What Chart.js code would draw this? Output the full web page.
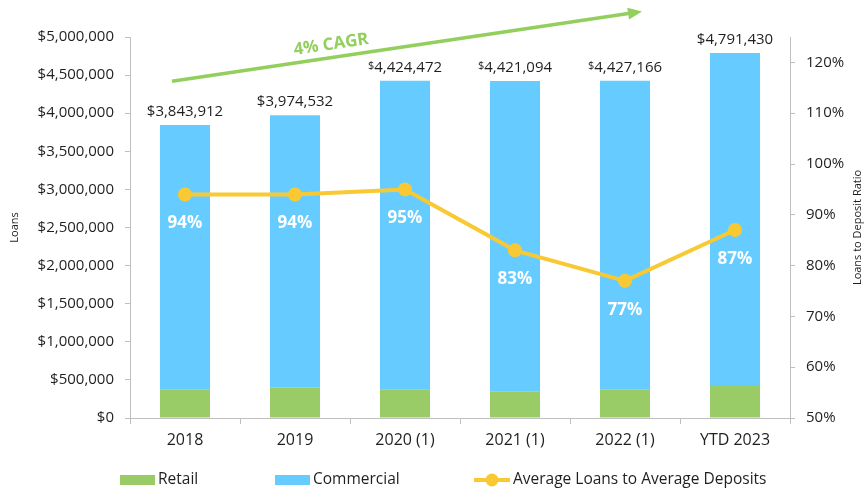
<!DOCTYPE html>
<html><head><meta charset="utf-8">
<script src="https://cdn.jsdelivr.net/npm/chart.js@4"></script>
<style>html,body{margin:0;padding:0;background:#fff}canvas{display:block}</style>
</head><body>
<canvas id="c" width="867" height="493"></canvas>
<script>
const categories = ['2018', '2019', '2020 (1)', '2021 (1)', '2022 (1)', 'YTD 2023'];
const totalLoans = [3843912, 3974532, 4424472, 4421094, 4427166, 4791430];
const retail = [376000, 398000, 376000, 350000, 376000, 433000];
const commercial = totalLoans.map((t, i) => t - retail[i]);
const ratio = [94, 94, 95, 83, 77, 87];
const smallDollar = [false, false, true, true, true, false];

const FONT = '"Open Sans", "Liberation Sans", sans-serif';
const GREEN = '#99CC66';
const BLUE = '#66CCFF';
const YELLOW = '#F9C934';
const ARROW = '#92CF5C';
const TXT = '#1F1F1F';
const AX = '#BFBFBF';

const overlay = {
  id: 'overlay',
  afterDatasetsDraw(chart) {
    const ctx = chart.ctx;
    const x = chart.scales.x, y = chart.scales.y;
    const ca = chart.chartArea;
    ctx.save();
    // totals above bars
    ctx.textBaseline = 'middle';
    ctx.fillStyle = TXT;
    totalLoans.forEach((v, i) => {
      const cx = x.getPixelForValue(i);
      const cy = y.getPixelForValue(v) - 13;
      const num = v.toLocaleString('en-US');
      const dFont = (smallDollar[i] ? '11px ' : '15px ') + FONT;
      const nFont = '15px ' + FONT;
      ctx.font = dFont; const dw = ctx.measureText('$').width;
      ctx.font = nFont; const nw = ctx.measureText(num).width;
      const sx = cx - (dw + nw) / 2;
      ctx.textAlign = 'left';
      ctx.font = dFont; ctx.fillText('$', sx, smallDollar[i] ? cy - 2 : cy);
      ctx.font = nFont; ctx.fillText(num, sx + dw, cy);
    });
    // percent labels
    const meta = chart.getDatasetMeta(2);
    ctx.fillStyle = '#FFFFFF';
    ctx.font = 'bold 17px ' + FONT;
    ctx.textAlign = 'center';
    meta.data.forEach((pt, i) => {
      ctx.fillText(ratio[i] + '%', pt.x, pt.y + 29);
    });
    // CAGR arrow
    const x0 = x.getPixelForValue(0) - 13, y0 = y.getPixelForValue(4420000);
    const x1 = x.getPixelForValue(4) + 15, y1 = y.getPixelForValue(5330000);
    const ang = Math.atan2(y1 - y0, x1 - x0);
    ctx.strokeStyle = ARROW; ctx.fillStyle = ARROW; ctx.lineWidth = 3.5;
    ctx.beginPath(); ctx.moveTo(x0, y0);
    ctx.lineTo(x1 - 10 * Math.cos(ang), y1 - 10 * Math.sin(ang)); ctx.stroke();
    ctx.save(); ctx.translate(x1, y1); ctx.rotate(ang);
    ctx.beginPath(); ctx.moveTo(2, 0); ctx.lineTo(-12, -6); ctx.lineTo(-12, 6); ctx.closePath(); ctx.fill();
    ctx.restore();
    // CAGR text
    const tx = x0 + (x1 - x0) * 0.34, ty = y0 + (y1 - y0) * 0.34 - 13;
    ctx.save(); ctx.translate(tx, ty); ctx.rotate(ang);
    ctx.font = 'bold 17px ' + FONT; ctx.textAlign = 'center'; ctx.textBaseline = 'middle';
    ctx.fillText('4% CAGR', 0, 0);
    ctx.restore();
    // axis titles
    ctx.fillStyle = TXT; ctx.font = '11px ' + FONT; ctx.textAlign = 'center'; ctx.textBaseline = 'middle';
    const my = (ca.top + ca.bottom) / 2;
    ctx.save(); ctx.translate(15, my); ctx.rotate(-Math.PI / 2); ctx.fillText('Loans', 0, 0); ctx.restore();
    ctx.save(); ctx.translate(858, my); ctx.rotate(-Math.PI / 2); ctx.fillText('Loans to Deposit Ratio', 0, 0); ctx.restore();
    // legend
    const ly = 480;
    ctx.font = '15.5px ' + FONT; ctx.textAlign = 'left'; ctx.textBaseline = 'middle';
    ctx.fillStyle = GREEN; ctx.fillRect(120, ly - 5, 35, 10);
    ctx.fillStyle = TXT; ctx.fillText('Retail', 158, ly);
    ctx.fillStyle = BLUE; ctx.fillRect(275, ly - 5, 35, 10);
    ctx.fillStyle = TXT; ctx.fillText('Commercial', 313, ly);
    ctx.strokeStyle = YELLOW; ctx.lineWidth = 4;
    ctx.beginPath(); ctx.moveTo(474, ly); ctx.lineTo(510, ly); ctx.stroke();
    ctx.fillStyle = YELLOW; ctx.beginPath(); ctx.arc(492, ly, 6.5, 0, Math.PI * 2); ctx.fill();
    ctx.fillStyle = TXT; ctx.fillText('Average Loans to Average Deposits', 513, ly);
    ctx.restore();
  }
};

new Chart(document.getElementById('c'), {
  data: {
    labels: categories,
    datasets: [
      { type: 'bar', label: 'Retail', data: retail, backgroundColor: GREEN, stack: 's', order: 2,
        categoryPercentage: 1, barPercentage: 0.455 },
      { type: 'bar', label: 'Commercial', data: commercial, backgroundColor: BLUE, stack: 's', order: 2,
        categoryPercentage: 1, barPercentage: 0.455 },
      { type: 'line', label: 'Average Loans to Average Deposits', data: ratio, yAxisID: 'y1', order: 0,
        borderColor: YELLOW, backgroundColor: YELLOW, borderWidth: 4, pointRadius: 7,
        pointBorderWidth: 0, pointBackgroundColor: YELLOW, tension: 0 }
    ]
  },
  options: {
    responsive: false, animation: false,
    layout: { padding: { top: 37, left: 0, right: 0, bottom: 0 } },
    plugins: { legend: { display: false }, tooltip: { enabled: false } },
    scales: {
      x: {
        stacked: true, offset: true,
        grid: { drawOnChartArea: false, drawTicks: true, tickLength: 6, color: AX, offset: true },
        border: { color: AX },
        ticks: { color: TXT, font: { family: FONT, size: 16 }, padding: 7 },
        afterFit(s) { s.height = 75; }
      },
      y: {
        stacked: true, min: 0, max: 5000000,
        grid: { drawOnChartArea: false, drawTicks: true, tickLength: 5, color: AX },
        border: { color: AX },
        ticks: { stepSize: 500000, color: TXT, font: { family: FONT, size: 15 }, padding: 11,
          callback: v => '$' + Number(v).toLocaleString('en-US') },
        afterFit(s) { s.width = 130; }
      },
      y1: {
        position: 'right', min: 50, max: 125,
        grid: { drawOnChartArea: false, drawTicks: true, tickLength: 5, color: AX },
        border: { color: AX },
        ticks: { stepSize: 10, color: TXT, font: { family: FONT, size: 15 }, padding: 11,
          callback: v => v + '%' },
        afterBuildTicks(s) { s.ticks = s.ticks.filter(t => t.value % 10 === 0); },
        afterFit(s) { s.width = 77; }
      }
    }
  },
  plugins: [overlay]
});
</script>
</body></html>
